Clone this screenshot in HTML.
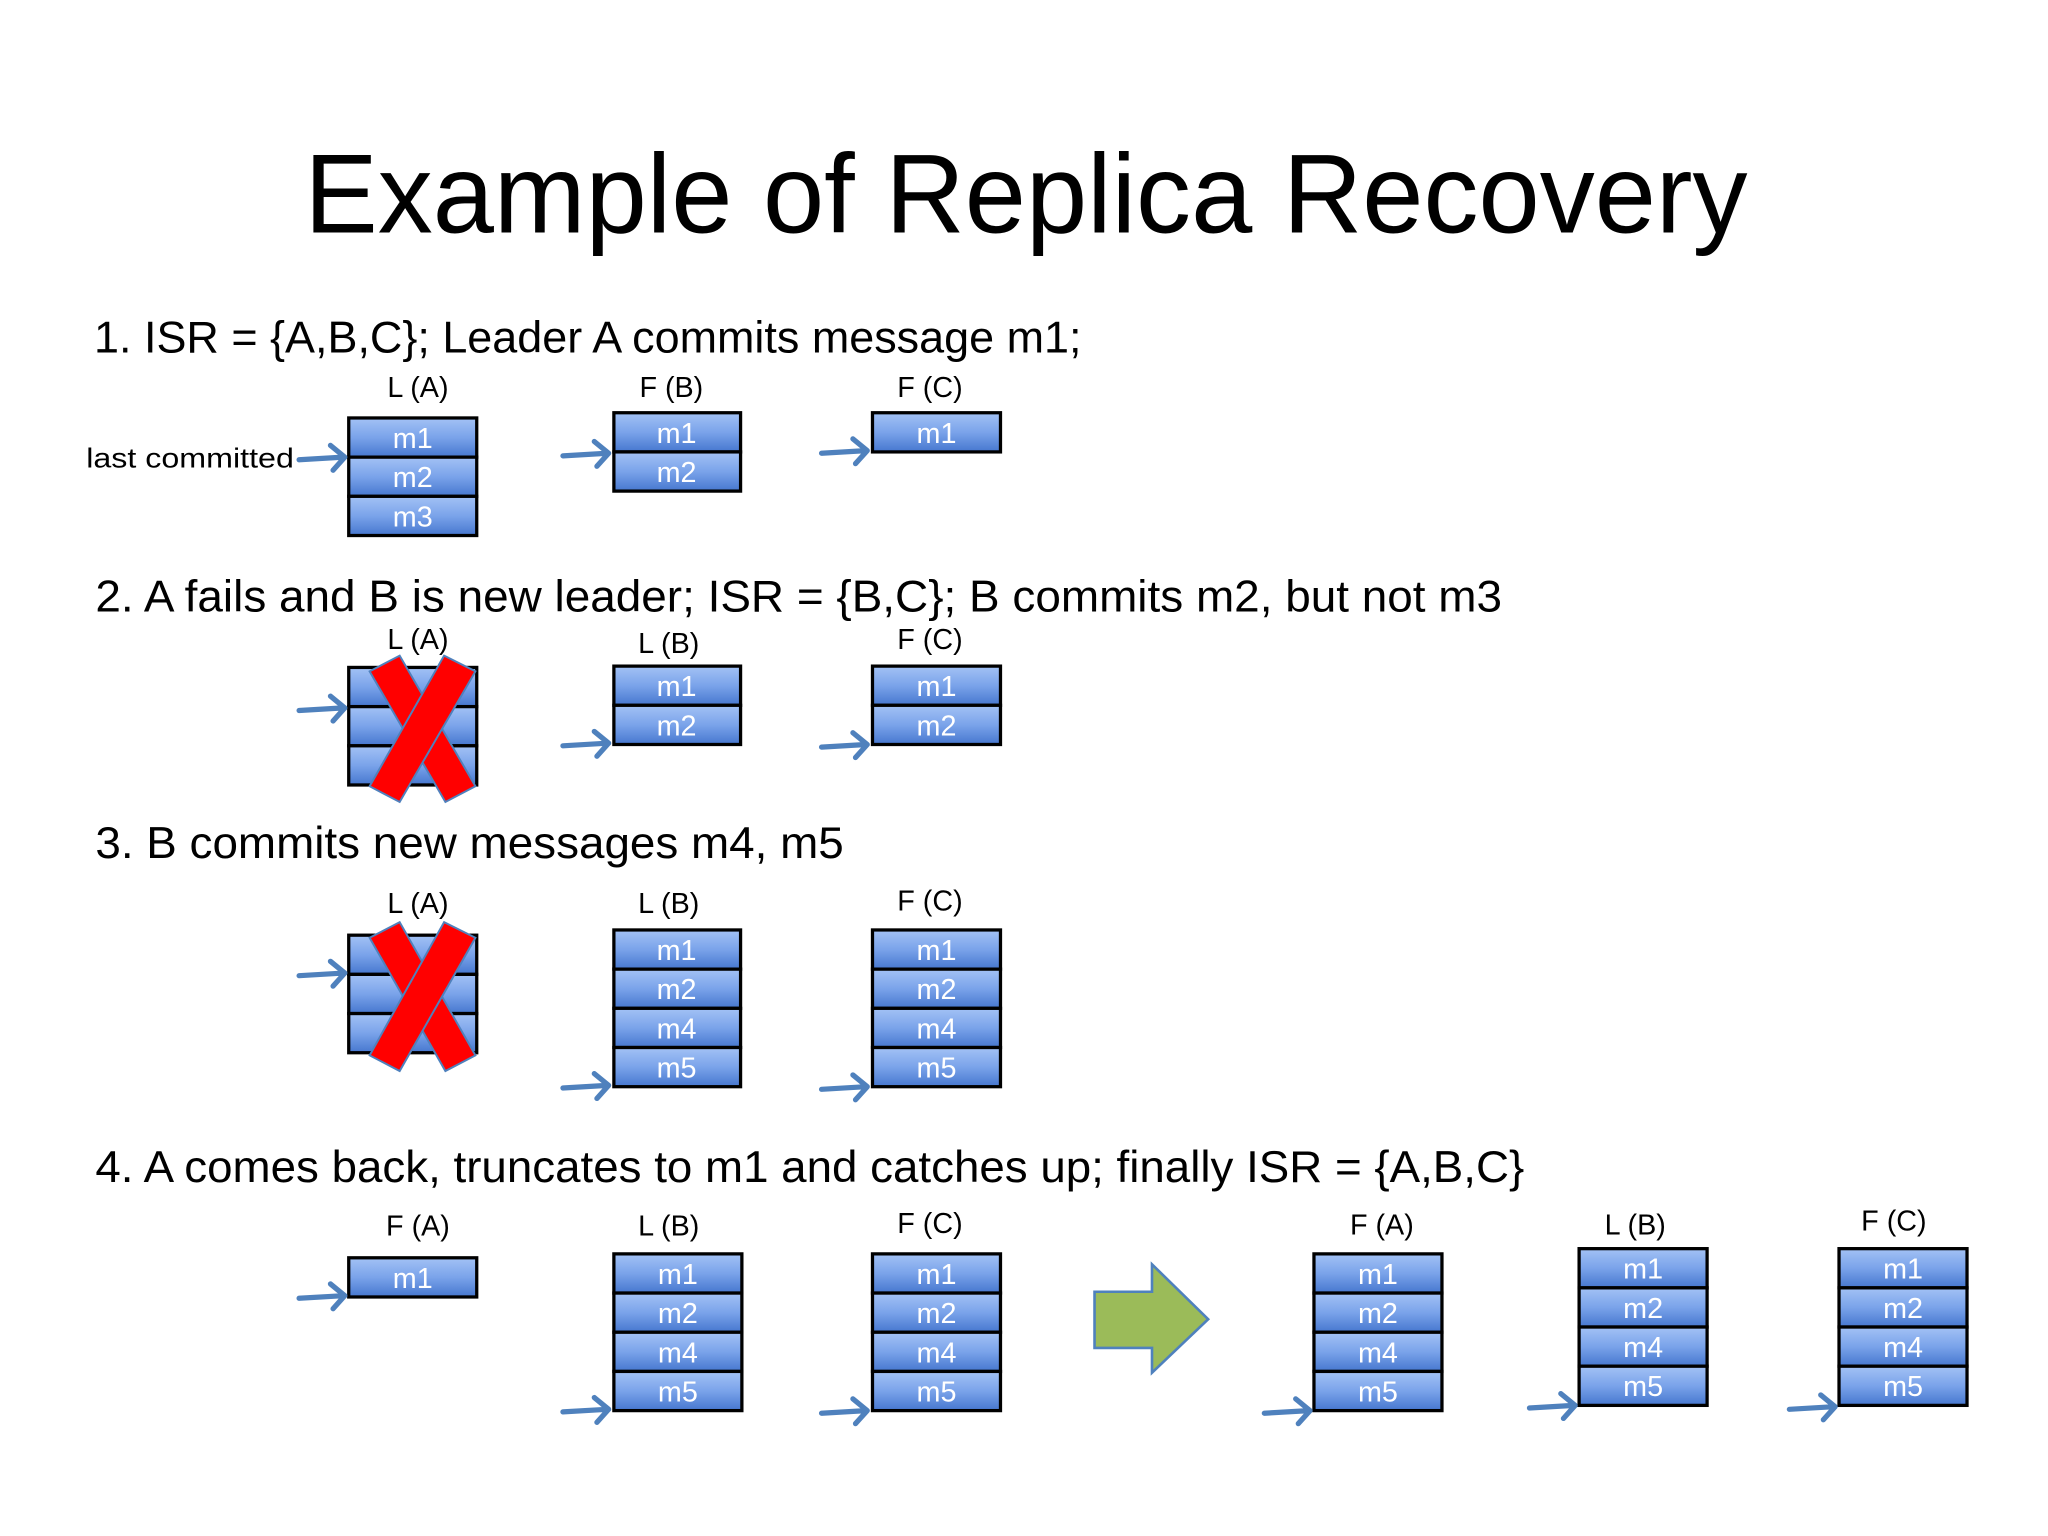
<!DOCTYPE html>
<html><head><meta charset="utf-8"><style>
html,body{margin:0;padding:0;background:#fff;width:2048px;height:1536px;overflow:hidden}
svg{display:block}
text{font-family:"Liberation Sans",sans-serif}
.h{font-size:34px;fill:#000}
.l{font-size:22px;fill:#000;text-anchor:middle}
.m{font-size:22px;fill:#fff;text-anchor:middle}
.c{fill:url(#g);stroke:#000;stroke-width:2.5}
.a{stroke:#4f81bd;stroke-width:4;fill:none;stroke-linecap:round;stroke-linejoin:round}
.x{fill:#f00;stroke:#4f81bd;stroke-width:1.5}
</style></head><body>
<svg width="2048" height="1536" viewBox="0 0 1568 1176" xmlns="http://www.w3.org/2000/svg">
<defs>
<linearGradient id="g" x1="0" y1="0" x2="0" y2="1">
<stop offset="0" stop-color="#a3c2f5"/><stop offset="0.5" stop-color="#7aa3ea"/><stop offset="1" stop-color="#4677cf"/>
</linearGradient>
<g id="ar"><path class="a" d="M-36,2 L-2,0 M-12,-9 L-1,0 L-10,10"/></g>
</defs>
<text x="233" y="178" font-size="86" textLength="1105" lengthAdjust="spacingAndGlyphs">Example of Replica Recovery</text>

<text class="h" x="72" y="270" textLength="756" lengthAdjust="spacingAndGlyphs">1. ISR = {A,B,C}; Leader A commits message m1;</text>
<text class="l" x="320" y="304">L (A)</text><text class="l" x="514" y="304">F (B)</text><text class="l" x="712" y="304">F (C)</text>
<text x="66" y="358" font-size="21" textLength="159" lengthAdjust="spacingAndGlyphs">last committed</text>
<rect class="c" x="267" y="320" width="98" height="30"/><rect class="c" x="267" y="350" width="98" height="30"/><rect class="c" x="267" y="380" width="98" height="30"/>
<text class="m" x="316" y="343">m1</text><text class="m" x="316" y="373">m2</text><text class="m" x="316" y="403">m3</text>
<use href="#ar" x="265" y="350"/>
<rect class="c" x="470" y="316" width="97" height="30"/><rect class="c" x="470" y="346" width="97" height="30"/>
<text class="m" x="518" y="339">m1</text><text class="m" x="518" y="369">m2</text>
<use href="#ar" x="467" y="347"/>
<rect class="c" x="668" y="316" width="98" height="30"/>
<text class="m" x="717" y="339">m1</text>
<use href="#ar" x="665" y="345"/>

<text class="h" x="73" y="468" textLength="1077" lengthAdjust="spacingAndGlyphs">2. A fails and B is new leader; ISR = {B,C}; B commits m2, but not m3</text>
<text class="l" x="320" y="497">L (A)</text><text class="l" x="512" y="500">L (B)</text><text class="l" x="712" y="497">F (C)</text>
<rect class="c" x="267" y="511" width="98" height="30"/><rect class="c" x="267" y="541" width="98" height="30"/><rect class="c" x="267" y="571" width="98" height="30"/>
<use href="#ar" x="265" y="542"/>
<polygon class="x" points="283,514 306,502 364,602 341,614"/><polygon class="x" points="340,502 364,514 306,614 283,602"/>
<rect class="c" x="470" y="510" width="97" height="30"/><rect class="c" x="470" y="540" width="97" height="30"/>
<text class="m" x="518" y="533">m1</text><text class="m" x="518" y="563">m2</text>
<use href="#ar" x="467" y="569"/>
<rect class="c" x="668" y="510" width="98" height="30"/><rect class="c" x="668" y="540" width="98" height="30"/>
<text class="m" x="717" y="533">m1</text><text class="m" x="717" y="563">m2</text>
<use href="#ar" x="665" y="570"/>

<text class="h" x="73" y="657" textLength="573" lengthAdjust="spacingAndGlyphs">3. B commits new messages m4, m5</text>
<text class="l" x="320" y="699">L (A)</text><text class="l" x="512" y="699">L (B)</text><text class="l" x="712" y="697">F (C)</text>
<rect class="c" x="267" y="716" width="98" height="30"/><rect class="c" x="267" y="746" width="98" height="30"/><rect class="c" x="267" y="776" width="98" height="30"/>
<use href="#ar" x="265" y="745"/>
<polygon class="x" points="283,718 306,706 364,808 341,820"/><polygon class="x" points="340,706 364,718 306,820 283,808"/>
<rect class="c" x="470" y="712" width="97" height="30"/><rect class="c" x="470" y="742" width="97" height="30"/><rect class="c" x="470" y="772" width="97" height="30"/><rect class="c" x="470" y="802" width="97" height="30"/>
<text class="m" x="518" y="735">m1</text><text class="m" x="518" y="765">m2</text><text class="m" x="518" y="795">m4</text><text class="m" x="518" y="825">m5</text>
<use href="#ar" x="467" y="831"/>
<rect class="c" x="668" y="712" width="98" height="30"/><rect class="c" x="668" y="742" width="98" height="30"/><rect class="c" x="668" y="772" width="98" height="30"/><rect class="c" x="668" y="802" width="98" height="30"/>
<text class="m" x="717" y="735">m1</text><text class="m" x="717" y="765">m2</text><text class="m" x="717" y="795">m4</text><text class="m" x="717" y="825">m5</text>
<use href="#ar" x="665" y="832"/>

<text class="h" x="73" y="905" textLength="1094" lengthAdjust="spacingAndGlyphs">4. A comes back, truncates to m1 and catches up; finally ISR = {A,B,C}</text>
<text class="l" x="320" y="946">F (A)</text><text class="l" x="512" y="946">L (B)</text><text class="l" x="712" y="944">F (C)</text>
<rect class="c" x="267" y="963" width="98" height="30"/><text class="m" x="316" y="986">m1</text>
<use href="#ar" x="265" y="992"/>
<rect class="c" x="470" y="960" width="98" height="30"/><rect class="c" x="470" y="990" width="98" height="30"/><rect class="c" x="470" y="1020" width="98" height="30"/><rect class="c" x="470" y="1050" width="98" height="30"/>
<text class="m" x="519" y="983">m1</text><text class="m" x="519" y="1013">m2</text><text class="m" x="519" y="1043">m4</text><text class="m" x="519" y="1073">m5</text>
<use href="#ar" x="467" y="1079"/>
<rect class="c" x="668" y="960" width="98" height="30"/><rect class="c" x="668" y="990" width="98" height="30"/><rect class="c" x="668" y="1020" width="98" height="30"/><rect class="c" x="668" y="1050" width="98" height="30"/>
<text class="m" x="717" y="983">m1</text><text class="m" x="717" y="1013">m2</text><text class="m" x="717" y="1043">m4</text><text class="m" x="717" y="1073">m5</text>
<use href="#ar" x="665" y="1080"/>
<polygon points="838,989 882,989 882,968 925,1010 882,1051 882,1032 838,1032" fill="#9bbb59" stroke="#4f81bd" stroke-width="2"/>

<text class="l" x="1058" y="945">F (A)</text><text class="l" x="1252" y="945">L (B)</text><text class="l" x="1450" y="942">F (C)</text>
<rect class="c" x="1006" y="960" width="98" height="30"/><rect class="c" x="1006" y="990" width="98" height="30"/><rect class="c" x="1006" y="1020" width="98" height="30"/><rect class="c" x="1006" y="1050" width="98" height="30"/>
<text class="m" x="1055" y="983">m1</text><text class="m" x="1055" y="1013">m2</text><text class="m" x="1055" y="1043">m4</text><text class="m" x="1055" y="1073">m5</text>
<use href="#ar" x="1004" y="1080"/>
<rect class="c" x="1209" y="956" width="98" height="30"/><rect class="c" x="1209" y="986" width="98" height="30"/><rect class="c" x="1209" y="1016" width="98" height="30"/><rect class="c" x="1209" y="1046" width="98" height="30"/>
<text class="m" x="1258" y="979">m1</text><text class="m" x="1258" y="1009">m2</text><text class="m" x="1258" y="1039">m4</text><text class="m" x="1258" y="1069">m5</text>
<use href="#ar" x="1207" y="1076"/>
<rect class="c" x="1408" y="956" width="98" height="30"/><rect class="c" x="1408" y="986" width="98" height="30"/><rect class="c" x="1408" y="1016" width="98" height="30"/><rect class="c" x="1408" y="1046" width="98" height="30"/>
<text class="m" x="1457" y="979">m1</text><text class="m" x="1457" y="1009">m2</text><text class="m" x="1457" y="1039">m4</text><text class="m" x="1457" y="1069">m5</text>
<use href="#ar" x="1406" y="1077"/>
</svg>
</body></html>
